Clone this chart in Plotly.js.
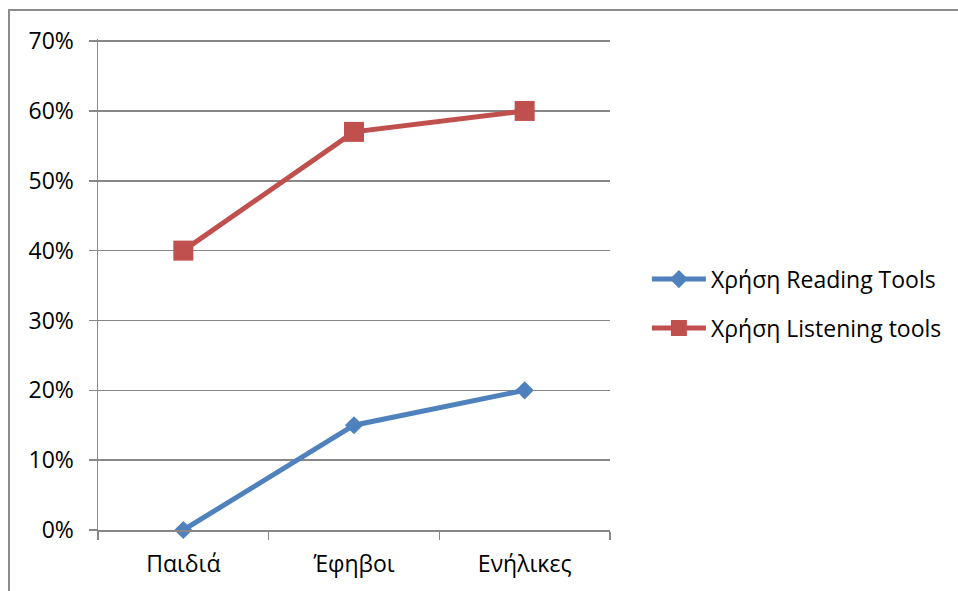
<!DOCTYPE html>
<html>
<head>
<meta charset="utf-8">
<script src="https://cdn.plot.ly/plotly-3.0.1.min.js"></script>
<style>
html,body{margin:0;padding:0;background:#fff;}
#wrap{position:relative;width:958px;height:591px;overflow:hidden;}
#chart{width:958px;height:591px;}
#frame{position:absolute;left:8px;top:9px;width:1000px;height:700px;border:2px solid #8c8c8c;pointer-events:none;box-sizing:border-box;}
</style>
</head>
<body>
<div id="wrap"><div id="chart"></div><div id="frame"></div></div>
<script>
const categories = ["Παιδιά", "Έφηβοι", "Ενήλικες"];
const readingName = "Χρήση Reading Tools";
const listeningName = "Χρήση Listening tools";
const readingValues = [0, 0.15, 0.20];
const listeningValues = [0.40, 0.57, 0.60];
const yTicks = [0, 0.1, 0.2, 0.3, 0.4, 0.5, 0.6, 0.7];
const yTickLabels = ["0%", "10%", "20%", "30%", "40%", "50%", "60%", "70%"];

const FONT = "Open Sans, Noto Sans, sans-serif";
const traces = [
  {
    x: categories, y: readingValues, name: readingName, type: "scatter", mode: "lines+markers",
    line: {color: "#4F81BD", width: 5},
    marker: {symbol: "diamond", size: 14, color: "#4F81BD"},
    legendgroup: "a", cliponaxis: false
  },
  {
    x: categories, y: listeningValues, name: listeningName, type: "scatter", mode: "lines+markers",
    line: {color: "#C0504D", width: 5},
    marker: {symbol: "square", size: 20, color: "#C0504D"},
    legendgroup: "b", cliponaxis: false
  }
];
const layout = {
  width: 958, height: 591,
  margin: {l: 98, r: 347, t: 39, b: 61, pad: 0},
  paper_bgcolor: "#fff", plot_bgcolor: "#fff",
  font: {family: FONT, size: 23, color: "#000"},
  showlegend: true,
  legend: {
    x: 1.07, y: 0.461, xanchor: "left", yanchor: "middle",
    font: {family: FONT, size: 23, color: "#000"},
    traceorder: "grouped", tracegroupgap: 16,
    bgcolor: "rgba(0,0,0,0)", itemwidth: 54
  },
  xaxis: {
    type: "category", range: [-0.5, 2.5], fixedrange: true,
    showline: true, linecolor: "#878787", linewidth: 1.5,
    ticks: "outside", ticklen: 8, tickcolor: "#878787", tickwidth: 1.5,
    tickson: "boundaries", showgrid: false, zeroline: false,
    tickfont: {family: FONT, size: 23, color: "#000"},
    ticklabelstandoff: 13
  },
  yaxis: {
    range: [0, 0.703], tickvals: yTicks, ticktext: yTickLabels, fixedrange: true,
    showline: true, linecolor: "#878787", linewidth: 1.5,
    ticks: "outside", ticklen: 8, tickcolor: "#878787", tickwidth: 1.5,
    showgrid: true, gridcolor: "#878787", gridwidth: 1.5, zeroline: false,
    tickfont: {family: FONT, size: 23, color: "#000"},
    ticklabelstandoff: 10
  }
};
Plotly.newPlot("chart", traces, layout, {displayModeBar: false, staticPlot: true});
</script>
</body>
</html>
